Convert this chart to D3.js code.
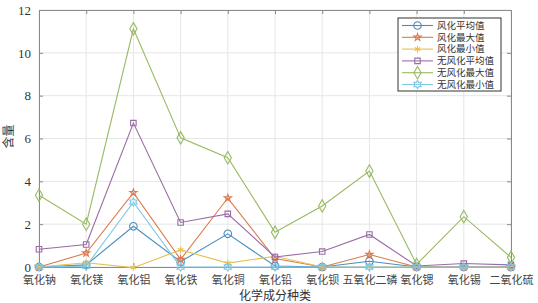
<!DOCTYPE html>
<html>
<head>
<meta charset="utf-8">
<script src="https://cdn.jsdelivr.net/npm/d3@7"></script>
<style>
  body { margin: 0; background: #fff; }
  text { font-family: "Noto Sans CJK SC", serif; }
</style>
</head>
<body>
<div id="chart"></div>
<script>
// Categories and series values
const categories = ["氧化钠", "氧化镁", "氧化铝", "氧化铁", "氧化铜", "氧化铅", "氧化钡", "五氧化二磷", "氧化锶", "氧化锡", "二氧化硫"];
const seriesNames = ["风化平均值", "风化最大值", "风化最小值", "无风化平均值", "无风化最大值", "无风化最小值"];
const wAvg = [0, 0.1, 1.9, 0.25, 1.55, 0.05, 0, 0.27, 0, 0, 0];
const wMax = [0, 0.65, 3.47, 0.35, 3.22, 0.4, 0, 0.58, 0, 0, 0];
const wMin = [0, 0.2, -0.03, 0.8, 0.18, 0.5, 0, 0, 0, 0, 0];
const uAvg = [0.83, 1.05, 6.72, 2.08, 2.48, 0.47, 0.72, 1.52, 0.05, 0.16, 0.1];
const uMax = [3.35, 2.0, 11.12, 6.03, 5.1, 1.62, 2.85, 4.48, 0.12, 2.35, 0.45];
const uMin = [0, 0.04, 3.03, 0, 0, 0, 0, 0, 0, 0, 0];
const yTicks = [0, 2, 4, 6, 8, 10, 12];

const allSeries = [wAvg, wMax, wMin, uAvg, uMax, uMin];
const colors = ["#4a8dbd", "#da7a4e", "#e6c04f", "#9a6ba6", "#98ba62", "#80c8e6"];

const margin = { top: 10, right: 27, bottom: 36, left: 39 };
const width = 538 - margin.left - margin.right;
const height = 303 - margin.top - margin.bottom;

const svg = d3.select("#chart").append("svg")
    .attr("width", 538)
    .attr("height", 303);
const g = svg.append("g")
    .attr("transform", `translate(${margin.left},${margin.top})`);

const x = d3.scalePoint().domain(categories).range([0, width]).padding(0);
const y = d3.scaleLinear().domain([0, 12]).range([height, 0]);

// grid
g.selectAll(".vgrid").data(categories).enter().append("line")
    .attr("x1", d => x(d)).attr("x2", d => x(d))
    .attr("y1", 0).attr("y2", height)
    .attr("stroke", "#e6e6e6").attr("stroke-width", 1);
g.selectAll(".hgrid").data(yTicks).enter().append("line")
    .attr("x1", 0).attr("x2", width)
    .attr("y1", d => y(d)).attr("y2", d => y(d))
    .attr("stroke", "#e6e6e6").attr("stroke-width", 1);

// axes (inward ticks)
const xAxis = g.append("g").attr("transform", `translate(0,${height})`)
    .call(d3.axisBottom(x).tickSizeInner(-4).tickSizeOuter(0).tickPadding(9));
const xTop = g.append("g")
    .call(d3.axisTop(x).tickSizeInner(-4).tickSizeOuter(0).tickFormat(""));
const yAxis = g.append("g")
    .call(d3.axisLeft(y).tickValues(yTicks).tickSizeInner(-4).tickSizeOuter(0).tickPadding(8));
const yRight = g.append("g").attr("transform", `translate(${width},0)`)
    .call(d3.axisRight(y).tickValues(yTicks).tickSizeInner(-4).tickSizeOuter(0).tickFormat(""));

[xAxis, xTop, yAxis, yRight].forEach(a => {
    a.selectAll("path").attr("stroke", "#8a8a8a");
    a.selectAll("line").attr("stroke", "#8a8a8a");
});
xAxis.selectAll("text").attr("font-size", 11).attr("fill", "#444");
yAxis.selectAll("text").attr("font-size", 13).attr("fill", "#333")
    .style("font-family", "'Liberation Serif', serif");

// marker shapes
function hexagram(size) {
    const r = Math.sqrt(size) * 0.62;
    const p = [];
    for (let k = 0; k < 12; k++) {
        const a = -Math.PI / 2 + k * Math.PI / 6;
        const rr = k % 2 === 0 ? r : r * 0.58;
        p.push([rr * Math.cos(a), rr * Math.sin(a)]);
    }
    return "M" + p.map(q => q.join(",")).join("L") + "Z";
}
const markers = [
    () => d3.symbol(d3.symbolCircle, 45)(),
    () => d3.symbol(d3.symbolStar, 16)(),
    () => d3.symbol(d3.symbolAsterisk, 30)(),
    () => d3.symbol(d3.symbolSquare, 30)(),
    () => d3.symbol(d3.symbolDiamond, 45)(),
    () => hexagram(45)
];

const line = d3.line().x((d, i) => x(categories[i])).y(d => y(d));

allSeries.forEach((vals, s) => {
    g.append("path")
        .datum(vals)
        .attr("fill", "none")
        .attr("stroke", colors[s])
        .attr("stroke-width", 1.1)
        .attr("d", line);
    g.selectAll(".m" + s).data(vals).enter().append("path")
        .attr("transform", (d, i) => `translate(${x(categories[i])},${y(d)})`)
        .attr("d", markers[s]())
        .attr("fill", "none")
        .attr("stroke", colors[s])
        .attr("stroke-width", 1.1);
});

// legend
const lg = g.append("g").attr("transform", `translate(${398 - margin.left},${18 - margin.top})`);
lg.append("rect").attr("width", 103).attr("height", 73)
    .attr("fill", "#fff").attr("stroke", "#333").attr("stroke-width", 1);
seriesNames.forEach((name, s) => {
    const yy = 7.5 + s * 11.8;
    lg.append("line").attr("x1", 4).attr("x2", 35).attr("y1", yy).attr("y2", yy)
        .attr("stroke", colors[s]).attr("stroke-width", 1.1);
    lg.append("path").attr("transform", `translate(19.5,${yy})`)
        .attr("d", markers[s]()).attr("fill", "none")
        .attr("stroke", colors[s]).attr("stroke-width", 1.1);
    lg.append("text").attr("x", 39).attr("y", yy).attr("dy", "0.35em")
        .attr("font-size", 9.5).attr("fill", "#333").text(name);
});

// axis labels
g.append("text")
    .attr("x", width / 2).attr("y", height + 33)
    .attr("text-anchor", "middle").attr("font-size", 12).attr("fill", "#333")
    .text("化学成分种类");
g.append("text")
    .attr("transform", "rotate(-90)")
    .attr("x", -(height / 2) + 2).attr("y", -26)
    .attr("text-anchor", "middle").attr("font-size", 12).attr("fill", "#333")
    .text("含量");
</script>
</body>
</html>
